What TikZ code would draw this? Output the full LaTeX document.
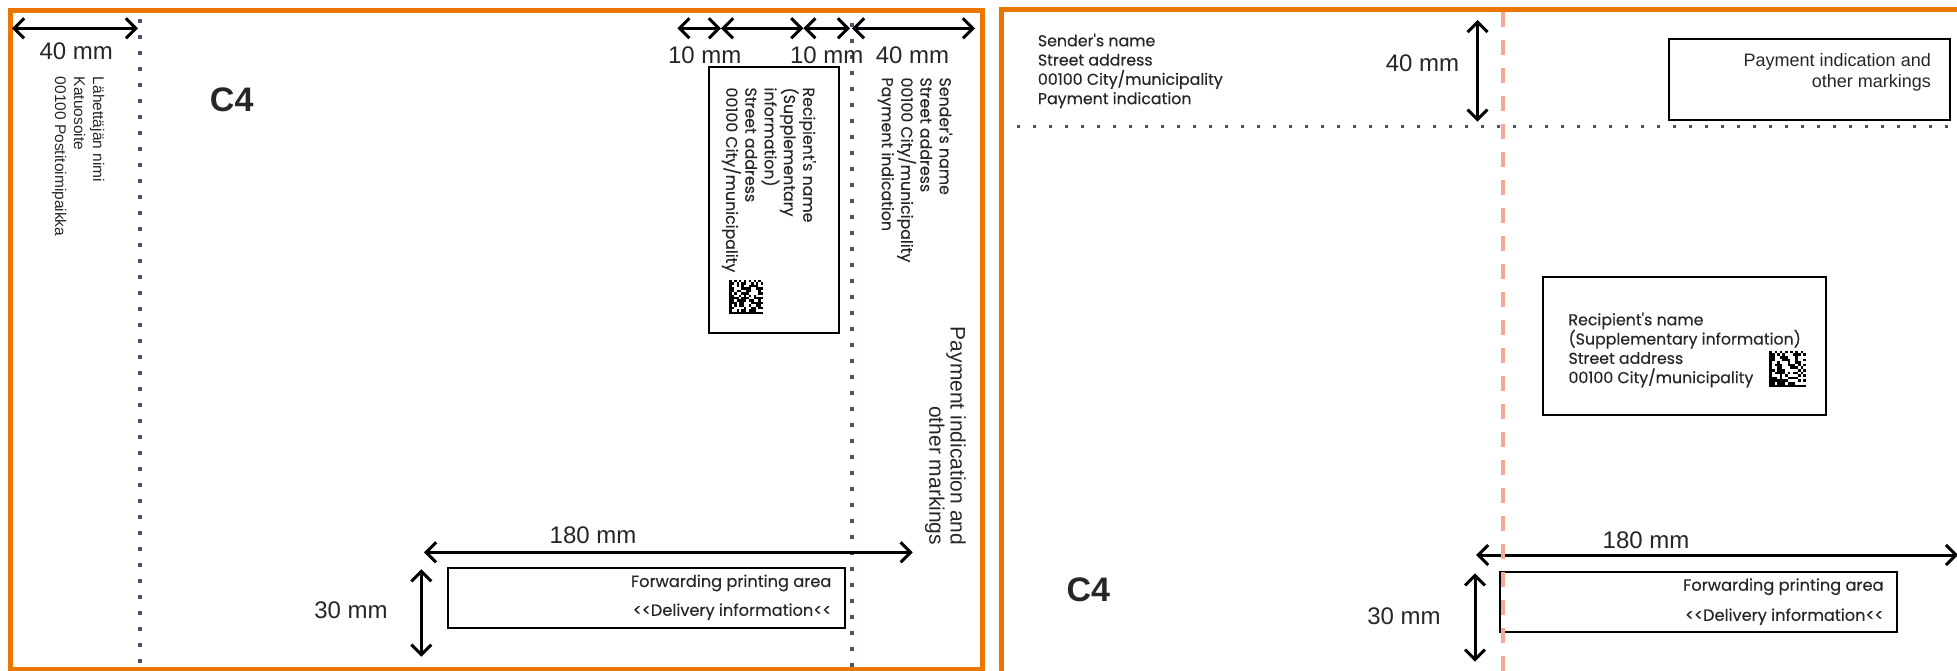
\documentclass[tikz,border=0pt]{standalone}
\usepackage{fontspec}
\setmainfont{Liberation Sans}
\newfontfamily\monts[FakeBold=0.3]{Poppins}
\usetikzlibrary{arrows.meta}
\definecolor{postiorange}{RGB}{234,118,0}
\definecolor{dotblue}{RGB}{68,84,106}
\definecolor{foldsalmon}{RGB}{247,169,150}
\definecolor{ink}{RGB}{38,38,38}
\tikzset{
  pics/dmcode/.style={code={
    \pgfmathsetseed{#1}
    \foreach \i in {1,...,12}{\foreach \j in {1,...,12}{
      \pgfmathrandominteger{\dmr}{0}{1}
      \ifnum\dmr=1 \fill[black] (\i,\j) rectangle ++(1,1);\fi
    }}
    \foreach \i in {0,2,...,12} \fill[black] (\i,0) rectangle ++(1,1);
    \foreach \j in {1,3,...,13} \fill[black] (13,\j) rectangle ++(1,1);
    \fill[black] (0,0) rectangle (1,14);
    \fill[black] (0,13) rectangle (14,14);
  }}
}
\begin{document}
\begin{tikzpicture}[x=1pt,y=-1pt,
  envelope/.style={draw=postiorange,line width=5pt},
  dotline/.style={draw=dotblue,line width=3.6pt,dash pattern=on 3.6pt off 12.4pt},
  foldline/.style={draw=foldsalmon,line width=4pt,dash pattern=on 15pt off 13pt},
  dim/.style={draw=black,line width=3pt,{Straight Barb[length=10pt,width=20pt]}-{Straight Barb[length=10pt,width=20pt]}},
  dimlabel/.style={font=\fontsize{24}{28}\selectfont,text=ink,inner sep=0pt},
  areabox/.style={draw=black,line width=2pt,inner sep=0pt,anchor=north west},
  addr/.style={font=\monts\fontsize{15.8}{19.3}\selectfont,text=ink,inner sep=0pt,align=left,anchor=north west},
  fwdtext/.style={font=\monts\fontsize{16.2}{18}\selectfont,text=ink,inner sep=0pt,anchor=east},
  sizelabel/.style={font=\bfseries\fontsize{34}{40}\selectfont,text=ink,inner sep=0pt},
  marktext/.style={text=ink,inner sep=0pt,align=right},
]
\useasboundingbox (0,0) rectangle (1957,671);
\clip (0,0) rectangle (1957,671);

% ---------- envelopes ----------
\draw[envelope] (10.5,10.5) rectangle (982,669);
\draw[envelope] (1001,10) rectangle (2100,800);

% ---------- left envelope ----------
\coordinate (dl1a) at (140,19);  \coordinate (dl1b) at (140,671);
\coordinate (dl2a) at (852,23);  \coordinate (dl2b) at (852,671);
\draw[dotline] (dl1a) -- (dl1b);
\draw[dotline] (dl2a) -- (dl2b);

\coordinate (lA) at (12,28.3); \coordinate (lB) at (138,28.3);
\draw[dim] (lA) -- (lB);
\node[dimlabel] (l40) at (76.3,51.7) {40 mm};

\coordinate (t1) at (677.3,28.3); \coordinate (t2) at (721,28.3);
\coordinate (t3) at (803.3,28.3); \coordinate (t4) at (850,28.3);
\coordinate (t5) at (852,28.3);   \coordinate (t6) at (975,28.3);
\draw[dim] (t1) -- (t2);
\draw[dim] (t2) -- (t3);
\draw[dim] (t3) -- (t4);
\draw[dim] (t5) -- (t6);
\node[dimlabel] (l10a) at (704.7,55) {10 mm};
\node[dimlabel] (l10b) at (826.7,55) {10 mm};
\node[dimlabel] (l40b) at (912.5,55) {40 mm};

\node[sizelabel] (c4L) at (231.7,100) {C4};

\node[marktext,align=left,rotate=-90,anchor=north west,font=\fontsize{15.5}{19}\selectfont] (lah) at (104.5,76.7)
  {Lähettäjän nimi\\Katuosoite\\00100 Postitoimipaikka};

\node[areabox,minimum width=130pt,minimum height=266.3pt] (recL) at (708.3,66) {};
\node[addr,rotate=-90] (recLtext) at (816,87.3)
  {Recipient's name\\(Supplementary\\information)\\Street address\\00100 City/municipality};
\pic[scale=2.43] at (729.3,280) {dmcode=7};

\node[addr,rotate=-90] (sendL) at (952.5,77.3)
  {Sender's name\\Street address\\00100 City/municipality\\Payment indication};

\node[marktext,rotate=-90,anchor=north west,font=\fontsize{21}{21.3}\selectfont] (payL) at (966,326.7)
  {Payment indication and\\other markings};

\coordinate (h1a) at (424,552.3); \coordinate (h1b) at (912.7,552.3);
\draw[dim] (h1a) -- (h1b);
\node[dimlabel] (l180) at (593,535) {180 mm};

\node[areabox,minimum width=397pt,minimum height=60.6pt] (fwdL) at (447,566.7) {};
\node[fwdtext] (fwdL1) at (831.5,583) {Forwarding printing area};
\node[fwdtext] (fwdL2) at (831.5,611.7) {<{}<Delivery information<{}<};

\coordinate (v1a) at (421.3,569.3); \coordinate (v1b) at (421.3,656.7);
\draw[dim] (v1a) -- (v1b);
\node[dimlabel] (l30) at (351,610) {30 mm};

% ---------- right envelope ----------
\coordinate (dh1a) at (1016.7,126.7); \coordinate (dh1b) at (1960,126.7);
\draw[dotline] (dh1a) -- (dh1b);

\node[addr] (sendR) at (1037.7,33.5)
  {Sender's name\\Street address\\00100 City/municipality\\Payment indication};

\coordinate (v2a) at (1477.5,20); \coordinate (v2b) at (1477.5,121.7);
\draw[dim] (v2a) -- (v2b);
\node[dimlabel] (r40) at (1422.5,63.3) {40 mm};

\node[areabox,minimum width=280.7pt,minimum height=81.6pt] (payR) at (1668.3,37.7) {};
\node[marktext,anchor=north east,font=\fontsize{18}{21}\selectfont] (payRtext) at (1931,53)
  {Payment indication and\\other markings};

\node[areabox,minimum width=283.3pt,minimum height=138.3pt] (recR) at (1541.7,275.7) {};
\node[addr] (recRtext) at (1568.3,312.5)
  {Recipient's name\\(Supplementary information)\\Street address\\00100 City/municipality};
\pic[scale=2.6] at (1769.3,350.7) {dmcode=11};

\node[sizelabel] (c4R) at (1088.3,590) {C4};

\coordinate (h2a) at (1476,555); \coordinate (h2b) at (1958,555);
\draw[dim] (h2a) -- (h2b);
\node[dimlabel] (r180) at (1646,540) {180 mm};

\node[areabox,minimum width=396.7pt,minimum height=60pt] (fwdR) at (1499.3,571) {};
\node[fwdtext] (fwdR1) at (1883.7,586.7) {Forwarding printing area};
\node[fwdtext] (fwdR2) at (1883.7,616.7) {<{}<Delivery information<{}<};

\coordinate (fa) at (1503,12); \coordinate (fb) at (1503,671);
\draw[foldline] (fa) -- (fb);

\coordinate (v3a) at (1475,573.3); \coordinate (v3b) at (1475,661.7);
\draw[dim] (v3a) -- (v3b);
\node[dimlabel] (r30) at (1404,616) {30 mm};
\end{tikzpicture}
\end{document}
